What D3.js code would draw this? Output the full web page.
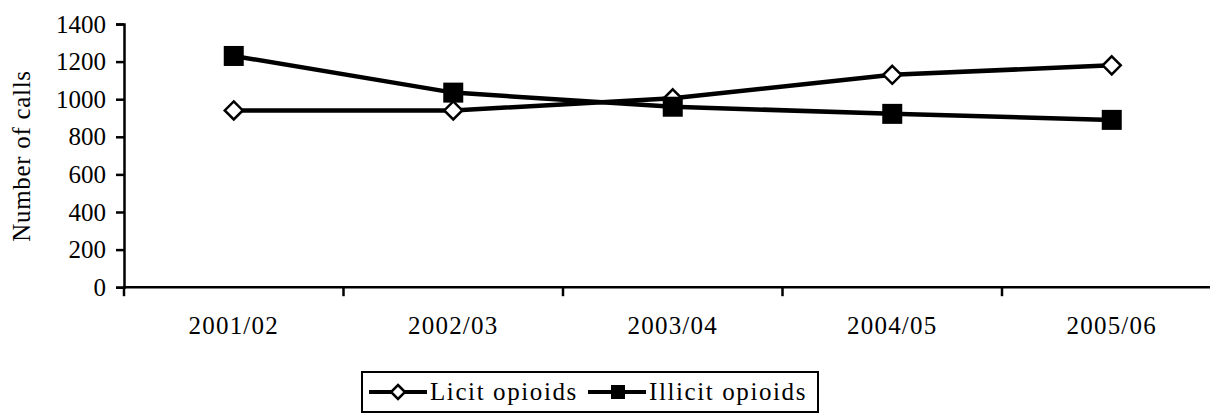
<!DOCTYPE html>
<html>
<head>
<meta charset="utf-8">
<script src="https://cdn.jsdelivr.net/npm/d3@7"></script>
<style>
  body { margin: 0; background: #fff; }
  text { font-family: "Liberation Serif", "Times New Roman", serif; fill: #000; }
</style>
</head>
<body>
<svg id="chart" width="1210" height="414"></svg>
<script>
// data
var years = ["2001/02", "2002/03", "2003/04", "2004/05", "2005/06"];
var licit = [940, 940, 1005, 1130, 1180];
var illicit = [1230, 1035, 960, 922, 890];
var yTicks = [0, 200, 400, 600, 800, 1000, 1200, 1400];

var svg = d3.select("#chart");

// plot box (don't call it "top", that's window.top)
var plotLeft = 124, plotRight = 1221.5, plotTop = 24, plotBottom = 287.2;
var fs = 25;

var x = d3.scaleBand().domain(years).range([plotLeft, plotRight]);
var y = d3.scaleLinear().domain([0, 1400]).range([plotBottom, plotTop]);

// y axis
var yAxis = svg.append("g")
    .attr("transform", "translate(" + plotLeft + ",0)")
    .call(d3.axisLeft(y).tickValues(yTicks).tickFormat(d3.format("d")).tickSize(8).tickPadding(10));
yAxis.attr("font-family", "Liberation Serif, serif");
yAxis.select(".domain").attr("stroke", "#000").attr("stroke-width", 2.5);
yAxis.selectAll(".tick line").attr("stroke", "#000").attr("stroke-width", 2.5);
yAxis.selectAll(".tick text")
    .attr("font-size", fs)
    .attr("fill", "#000");

// x axis - ticks at the band edges, labels at band centres
var xAxis = svg.append("g")
    .attr("transform", "translate(0," + plotBottom + ")");
xAxis.append("line")
    .attr("x1", plotLeft).attr("x2", plotRight)
    .attr("stroke", "#000").attr("stroke-width", 2.5);
xAxis.selectAll(".xtick")
    .data(years)
    .enter()
    .append("line")
    .attr("x1", function(d) { return x(d); })
    .attr("x2", function(d) { return x(d); })
    .attr("y1", 0).attr("y2", 9)
    .attr("stroke", "#000").attr("stroke-width", 2.5);
xAxis.selectAll(".xlab")
    .data(years)
    .enter()
    .append("text")
    .attr("x", function(d) { return x(d) + x.bandwidth() / 2; })
    .attr("y", 47)
    .attr("text-anchor", "middle")
    .attr("font-size", fs)
    .attr("letter-spacing", 1.2)
    .text(function(d) { return d; });

// y title
svg.append("text")
    .attr("transform", "translate(30,156) rotate(-90)")
    .attr("text-anchor", "middle")
    .attr("font-size", fs)
    .attr("letter-spacing", 0.7)
    .text("Number of calls");

var cx = function(d, i) { return x(years[i]) + x.bandwidth() / 2; };
var line = d3.line()
    .x(function(d, i) { return cx(d, i); })
    .y(function(d) { return y(d); });

// licit line
svg.append("path")
    .datum(licit)
    .attr("d", line)
    .attr("fill", "none")
    .attr("stroke", "#000")
    .attr("stroke-width", 4.5);

// illicit line
svg.append("path")
    .datum(illicit)
    .attr("d", line)
    .attr("fill", "none")
    .attr("stroke", "#000")
    .attr("stroke-width", 4.5);

svg.selectAll(".diamond")
    .data(licit)
    .enter()
    .append("path")
    .attr("d", "M0,-9L9,0L0,9L-9,0Z")
    .attr("transform", function(d, i) { return "translate(" + cx(d, i) + "," + y(d) + ")"; })
    .attr("fill", "#fff")
    .attr("stroke", "#000")
    .attr("stroke-width", 2.5);

svg.selectAll(".square")
    .data(illicit)
    .enter()
    .append("rect")
    .attr("x", function(d, i) { return cx(d, i) - 10; })
    .attr("y", function(d) { return y(d) - 10; })
    .attr("width", 20)
    .attr("height", 20)
    .attr("fill", "#000");

// legend
var legend = svg.append("g");
legend.append("rect")
    .attr("x", 362).attr("y", 372)
    .attr("width", 456).attr("height", 40)
    .attr("fill", "#fff")
    .attr("stroke", "#000")
    .attr("stroke-width", 2);

var ly = 392;
legend.append("line")
    .attr("x1", 369).attr("x2", 427).attr("y1", ly).attr("y2", ly)
    .attr("stroke", "#000").attr("stroke-width", 4);
legend.append("path")
    .attr("d", "M0,-7L7,0L0,7L-7,0Z")
    .attr("transform", "translate(398," + ly + ")")
    .attr("fill", "#fff").attr("stroke", "#000").attr("stroke-width", 2.5);
legend.append("text")
    .attr("x", 430).attr("y", ly + 8)
    .attr("font-size", fs)
    .attr("letter-spacing", 1.6)
    .text("Licit opioids");

legend.append("line")
    .attr("x1", 588).attr("x2", 646).attr("y1", ly).attr("y2", ly)
    .attr("stroke", "#000").attr("stroke-width", 4);
legend.append("rect")
    .attr("x", 611).attr("y", ly - 7)
    .attr("width", 14).attr("height", 14)
    .attr("fill", "#000");
legend.append("text")
    .attr("x", 649).attr("y", ly + 8)
    .attr("font-size", fs)
    .attr("letter-spacing", 1.6)
    .text("Illicit opioids");
</script>
</body>
</html>
